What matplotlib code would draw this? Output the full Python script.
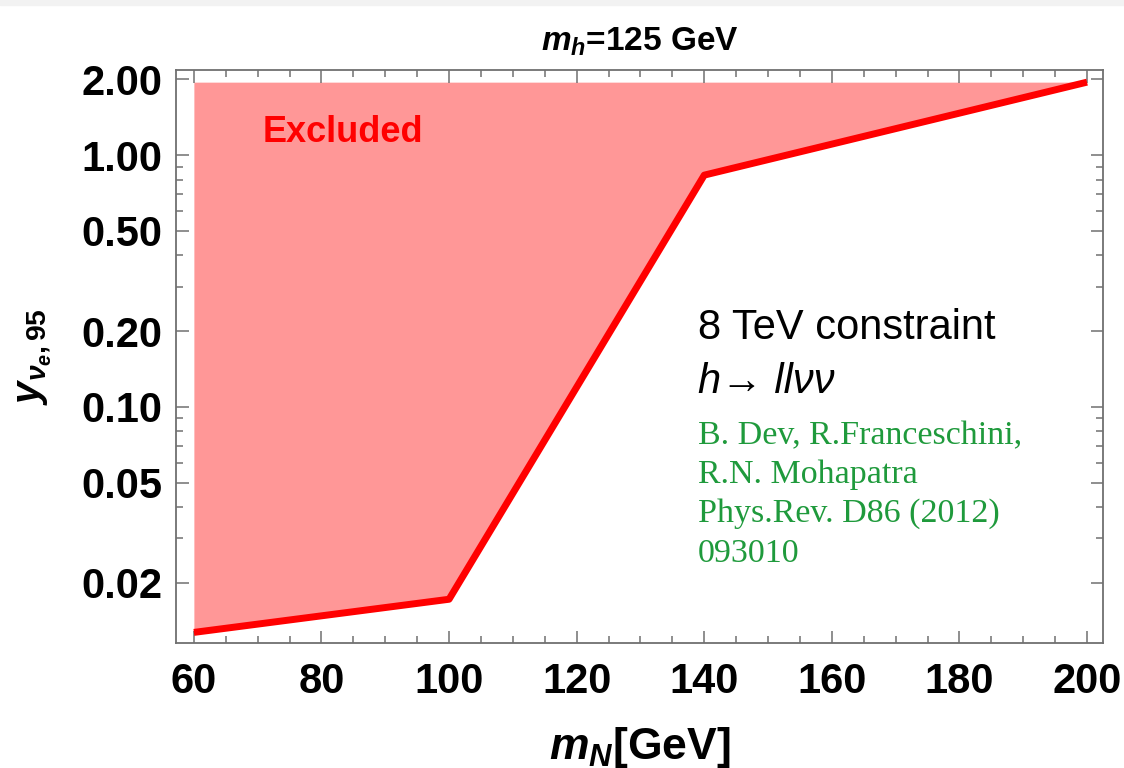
import matplotlib
matplotlib.use("Agg")
import matplotlib.pyplot as plt
from matplotlib.ticker import FixedLocator, NullFormatter, MultipleLocator, LogLocator
import matplotlib.patches as mpatches

plt.rcParams["font.family"] = ["Liberation Sans", "DejaVu Sans"]
plt.rcParams["mathtext.fontset"] = "custom"
plt.rcParams["mathtext.it"] = "Liberation Sans:italic:bold"
plt.rcParams["mathtext.rm"] = "Liberation Sans:bold"
plt.rcParams["mathtext.bf"] = "Liberation Sans:bold"

# Exclusion boundary: heavy neutrino mass vs 95% CL Yukawa limit
m_N = [60, 100, 140, 200]
y_limit = [0.0127, 0.0172, 0.833, 1.95]
y_top = 1.95

y_ticks = [0.02, 0.05, 0.10, 0.20, 0.50, 1.00, 2.00]
y_tick_labels = ["0.02", "0.05", "0.10", "0.20", "0.50", "1.00", "2.00"]
x_ticks = [60, 80, 100, 120, 140, 160, 180, 200]

fig = plt.figure(figsize=(11.24, 7.68), dpi=100)
fig.patches.append(mpatches.Rectangle((0, 0.993), 1, 0.007, transform=fig.transFigure,
                                      color="#f2f2f2", zorder=0))
ax = fig.add_axes([0.1566, 0.1628, 0.9813 - 0.1566, 0.9089 - 0.1628])

ax.fill_between(m_N, y_limit, y_top, color="#ff9797", linewidth=0, zorder=1)
ax.plot(m_N, y_limit, color="#ff0000", linewidth=5, solid_capstyle="butt", zorder=2)

ax.set_yscale("log")
ax.set_xlim(57.2, 202.5)
ax.set_ylim(0.01153, 2.18)

ax.yaxis.set_major_locator(FixedLocator(y_ticks))
ax.set_yticklabels(y_tick_labels)
ax.yaxis.set_minor_locator(LogLocator(base=10, subs=[1, 2, 3, 4, 5, 6, 7, 8, 9]))
ax.yaxis.set_minor_formatter(NullFormatter())
ax.set_xticks(x_ticks)
ax.xaxis.set_minor_locator(MultipleLocator(5))

frame_col = "#707070"
for s in ax.spines.values():
    s.set_color(frame_col)
    s.set_linewidth(1.3)
ax.tick_params(which="both", direction="in", top=True, right=True, color=frame_col, width=1.1)
ax.tick_params(which="major", length=9, labelsize=30)
ax.tick_params(axis="x", which="major", pad=14)
ax.tick_params(axis="y", which="major", pad=10)
ax.tick_params(which="minor", length=5)
for lbl in ax.get_xticklabels() + ax.get_yticklabels():
    lbl.set_fontweight("bold")

ax.set_title("$m_h$=125 GeV", fontsize=24, fontweight="bold", pad=14)
ax.set_xlabel("$m_N$[GeV]", fontsize=32, fontweight="bold", labelpad=16)
ax.set_ylabel(r"$y_{\nu_e,95}$", fontsize=29, fontweight="bold", labelpad=20)

ax.text(0.093, 0.89, "Excluded", transform=ax.transAxes, color="#ff0000",
        fontsize=26, fontweight="bold", va="center", ha="left")

ax.text(0.563, 0.55, "8 TeV constraint", transform=ax.transAxes, color="black",
        fontsize=30, va="center", ha="left")
ax.text(0.563, 0.455, "h\u2192 ll\u03bd\u03bd", transform=ax.transAxes, color="black",
        fontsize=30, style="italic", va="center", ha="left",
        family=["Liberation Sans", "DejaVu Sans"])
ref_lines = ["B. Dev, R.Franceschini,", "R.N. Mohapatra", "Phys.Rev. D86 (2012)", "093010"]
for i, line in enumerate(ref_lines):
    ax.text(0.563, 0.362 - i * 0.0685, line, transform=ax.transAxes, color="#1f9a3c",
            fontsize=24.5, family=["Liberation Serif", "DejaVu Serif"], va="center", ha="left")

fig.savefig("out.png", dpi=100)
